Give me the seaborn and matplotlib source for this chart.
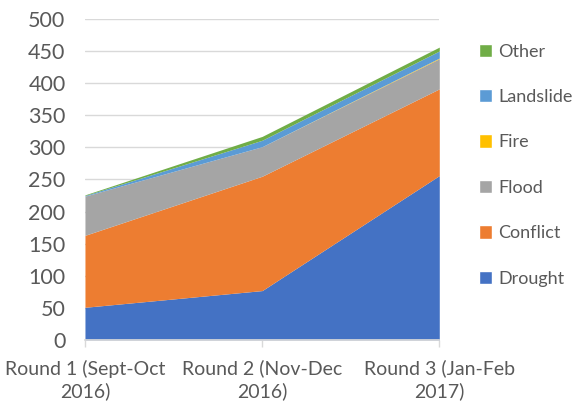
import seaborn as sns
import pandas as pd
import numpy as np
import matplotlib.pyplot as plt
from matplotlib.patches import Patch

rounds = ['Round 1 (Sept-Oct\n2016)', 'Round 2 (Nov-Dec\n2016)', 'Round 3 (Jan-Feb\n2017)']
drought = [51, 77, 256]
conflict = [112, 178, 135]
flood = [61, 46, 47]
fire = [0, 0, 1]
landslide = [1, 10, 11]
other = [1, 6, 6]

series = ['Drought', 'Conflict', 'Flood', 'Fire', 'Landslide', 'Other']
colors = ['#4472C4', '#ED7D31', '#A5A5A5', '#FFC000', '#5B9BD5', '#70AD47']

df = pd.DataFrame({'Drought': drought, 'Conflict': conflict, 'Flood': flood,
                   'Fire': fire, 'Landslide': landslide, 'Other': other}, index=rounds)

sns.set_theme(style='white')
plt.rcParams['font.family'] = ['Lato', 'DejaVu Sans']

fig = plt.figure(figsize=(5.78, 4.01), dpi=100)
ax = fig.add_axes([0.147, 0.152, 0.613, 0.801])

x = np.arange(len(rounds))
ax.stackplot(x, *[df[s].values for s in series], colors=colors, linewidth=0)

ax.set_xlim(0, 2)
ax.set_ylim(0, 500)
ax.set_yticks(np.arange(0, 501, 50))
ax.set_xticks(x)
ax.set_xticklabels(rounds, linespacing=1.3)
ax.yaxis.grid(True, color='#d9d9d9', linewidth=1)
ax.set_axisbelow(True)
for s in ['top', 'right', 'left']:
    ax.spines[s].set_visible(False)
ax.spines['bottom'].set_color('#d9d9d9')
ax.tick_params(axis='y', labelsize=15.5, colors='#595959', length=0, pad=14)
ax.tick_params(axis='x', labelsize=14, colors='#595959', length=5, width=1,
               color='#d9d9d9', bottom=True, pad=9)
for lab in ax.get_xticklabels():
    lab.set_color('#595959')

handles = [Patch(facecolor=c, label=s) for s, c in zip(series, colors)][::-1]
fig.legend(handles=handles, loc='upper left', bbox_to_anchor=(0.8, 0.932),
           frameon=False, fontsize=13, labelcolor='#595959', handlelength=0.75,
           handleheight=0.75, handletextpad=0.35, labelspacing=1.63)

plt.savefig('out.png', dpi=100)
